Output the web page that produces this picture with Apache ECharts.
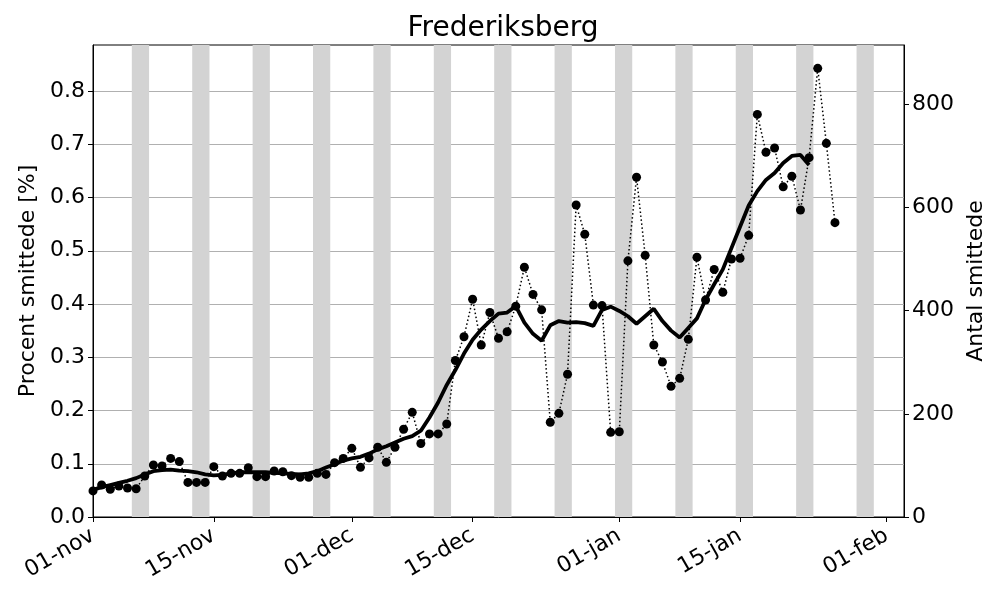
<!DOCTYPE html>
<html>
<head>
<meta charset="utf-8">
<script src="https://cdn.jsdelivr.net/npm/echarts@6/dist/echarts.min.js"></script>
<style>
  html, body { margin: 0; padding: 0; background: #fff; }
  #chart { width: 1000px; height: 600px; }
</style>
</head>
<body>
<div id="chart"></div>
<script>
// day 0 = 01-nov-2021
const pctDaily = [
  0.049, 0.060, 0.052, 0.058, 0.0545, 0.053, 0.077, 0.0976, 0.096, 0.110,
  0.104, 0.065, 0.065, 0.065, 0.0945, 0.077, 0.082, 0.082, 0.0926, 0.0757,
  0.0757, 0.0864, 0.085, 0.0776, 0.0745, 0.0745, 0.082, 0.080, 0.102, 0.110,
  0.129, 0.0933, 0.111, 0.131, 0.1027, 0.131, 0.1647, 0.1966, 0.138, 0.156,
  0.156, 0.1746, 0.294, 0.3386, 0.409, 0.323, 0.384, 0.3356, 0.348, 0.396,
  0.469, 0.418, 0.389, 0.178, 0.1947, 0.268, 0.586, 0.531, 0.398, 0.397,
  0.159, 0.160, 0.481, 0.638, 0.4914, 0.323, 0.291, 0.2454, 0.2604, 0.3337,
  0.4877, 0.4075, 0.465, 0.422, 0.4845, 0.486, 0.529, 0.756, 0.685, 0.693,
  0.620, 0.640, 0.5765, 0.6748, 0.8426, 0.7017, 0.5527
]
const pctAvg = [
  0.051, 0.056, 0.060, 0.064, 0.068, 0.073, 0.080, 0.086, 0.088, 0.089,
  0.087, 0.086, 0.084, 0.080, 0.078, 0.079, 0.082, 0.084, 0.084, 0.084,
  0.084, 0.083, 0.082, 0.081, 0.080, 0.082, 0.086, 0.093, 0.099, 0.106,
  0.110, 0.113, 0.119, 0.127, 0.133, 0.140, 0.147, 0.152, 0.162, 0.187,
  0.215, 0.248, 0.276, 0.307, 0.333, 0.352, 0.368, 0.382, 0.384, 0.396,
  0.365, 0.344, 0.331, 0.360, 0.368, 0.365, 0.366, 0.364, 0.359, 0.389,
  0.395, 0.387, 0.377, 0.363, 0.377, 0.391, 0.368, 0.350, 0.337, 0.355,
  0.373, 0.408, 0.437, 0.465, 0.505, 0.545, 0.585, 0.612, 0.633, 0.646,
  0.665, 0.678, 0.680, 0.661
]
// saturdays (day index), weekend shaded sat+sun
const weekendSat = [5, 12, 19, 26, 33, 40, 47, 54, 61, 68, 75, 82, 89]
const tickDays = [0, 14, 30, 44, 61, 75, 92]
const tickLabels = ['01-nov', '15-nov', '01-dec', '15-dec', '01-jan', '15-jan', '01-feb']
const pctTicks = [0, 0.1, 0.2, 0.3, 0.4, 0.5, 0.6, 0.7, 0.8]
const countTicks = [0, 200, 400, 600, 800]

const chart = echarts.init(document.getElementById('chart'))
const font = 'DejaVu Sans'

const option = {
  animation: false,
  textStyle: { fontFamily: font },
  title: {
    text: 'Frederiksberg',
    left: 498, top: 10, textAlign: 'center',
    textStyle: { fontFamily: font, fontSize: 28, fontWeight: 'normal', color: '#000' }
  },
  grid: {
    left: 93, right: 96, top: 45, bottom: 83,
    show: true, borderColor: '#000', borderWidth: 1, backgroundColor: 'transparent'
  },
  xAxis: {
    type: 'value', min: 0, max: 94,
    splitLine: { show: false },
    axisLine: { onZero: false, lineStyle: { color: '#000', width: 1 } },
    axisTick: { customValues: tickDays, length: 5, lineStyle: { color: '#000' } },
    axisLabel: {
      customValues: tickDays,
      rotate: 30, fontSize: 22, color: '#000', margin: 17, fontFamily: font,
      formatter: v => tickLabels[tickDays.indexOf(Math.round(v))] || ''
    }
  },
  yAxis: [{
    type: 'value', min: 0, max: 0.8864, interval: 0.1,
    name: 'Procent smittede [%]', nameLocation: 'middle', nameGap: 51, nameRotate: 90,
    nameTextStyle: { fontSize: 22, color: '#000', fontFamily: font },
    axisLine: { show: true, lineStyle: { color: '#000' } },
    axisTick: { show: true, customValues: pctTicks, length: 5, lineStyle: { color: '#000' } },
    axisLabel: { customValues: pctTicks, fontSize: 22, color: '#000', margin: 8, fontFamily: font,
      formatter: v => v.toFixed(1) },
    splitLine: { show: true, lineStyle: { color: '#b0b0b0', width: 1 } }
  }, {
    type: 'value', min: 0, max: 915, interval: 200, position: 'right',
    name: 'Antal smittede', nameLocation: 'middle', nameGap: 55, nameRotate: 90,
    nameTextStyle: { fontSize: 22, color: '#000', fontFamily: font },
    axisLine: { show: true, lineStyle: { color: '#000' } },
    axisTick: { show: true, customValues: countTicks, length: 5, lineStyle: { color: '#000' } },
    axisLabel: { customValues: countTicks, fontSize: 22, color: '#000', margin: 8, fontFamily: font },
    splitLine: { show: false }
  }],
  series: [{
    type: 'line', data: [], silent: true,
    markArea: {
      silent: true,
      itemStyle: { color: '#d3d3d3' },
      data: weekendSat.map(d => [{ xAxis: d - 0.5 }, { xAxis: d + 1.5 }])
    }
  }, {
    name: 'daily', type: 'line',
    data: pctDaily.map((v, i) => [i, v]),
    symbol: 'circle', symbolSize: 9,
    itemStyle: { color: '#000' },
    lineStyle: { color: '#000', width: 1.5, type: [1.5, 2.5] },
    z: 3
  }, {
    name: 'avg', type: 'line',
    data: pctAvg.map((v, i) => [i, v]),
    symbol: 'none',
    lineStyle: { color: '#000', width: 3.8 },
    z: 4
  }]
}
chart.setOption(option)
</script>
</body>
</html>
